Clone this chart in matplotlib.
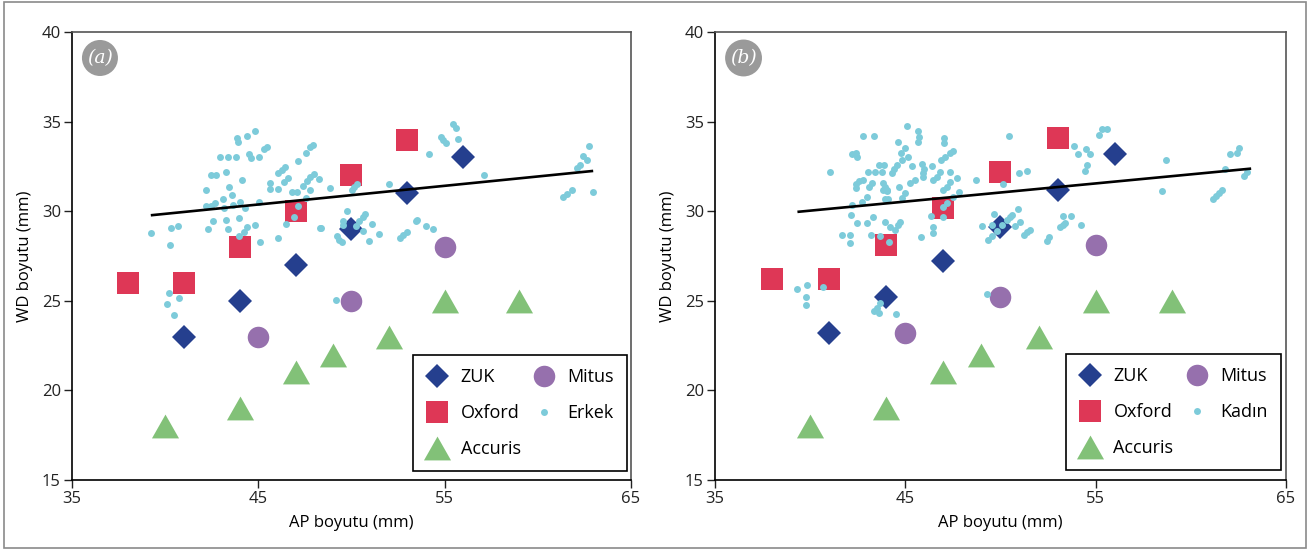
import numpy as np
import matplotlib.pyplot as plt
from matplotlib.patches import Rectangle

plt.rcParams['font.family'] = ['Open Sans', 'DejaVu Sans']

# implant sizes (AP, WD) - panel (a)
zuk_ap_a = [41, 44, 47, 50, 53, 56]
zuk_wd_a = [23, 25, 27, 29, 31, 33]
oxf_ap_a = [38, 41, 44, 47, 50, 53]
oxf_wd_a = [26, 26, 28, 30, 32, 34]
acc_ap_a = [40, 44, 47, 49, 52, 55, 59]
acc_wd_a = [18, 19, 21, 22, 23, 25, 25]
mit_ap_a = [45, 50, 55]
mit_wd_a = [23, 25, 28]

# panel (b)
zuk_ap_b = [41, 44, 47, 50, 53, 56]
zuk_wd_b = [23.2, 25.2, 27.2, 29.1, 31.2, 33.2]
oxf_ap_b = [38, 41, 44, 47, 50, 53]
oxf_wd_b = [26.2, 26.2, 28.1, 30.2, 32.2, 34.1]
acc_ap_b = [40, 44, 47, 49, 52, 55, 59]
acc_wd_b = [18, 19, 21, 22, 23, 25, 25]
mit_ap_b = [45, 50, 55]
mit_wd_b = [23.2, 25.2, 28.1]

# erkek olculeri
erkek_ap = [39.24, 40.30, 40.69, 40.26, 40.22, 40.76, 40.08, 40.48,
            42.19, 42.46, 42.71, 43.28, 42.96, 43.39, 43.79,
            43.84, 43.93, 44.41, 44.82, 44.50, 44.59, 45.04, 45.32, 45.45,
            44.14, 43.44, 43.59, 43.09, 42.69, 42.21, 42.46, 43.18,
            43.66, 44.02, 44.29, 45.02,
            42.57, 43.27, 43.96, 42.32, 43.36, 43.95, 44.25, 44.41, 44.81, 45.11,
            45.61, 45.60, 46.07, 46.07, 46.27, 46.45, 46.38, 46.58, 47.11, 47.56, 47.79, 47.94,
            46.81, 47.06, 47.56, 47.38, 47.60, 47.78, 48.00, 47.78, 48.24,
            47.13, 46.93, 46.50, 46.07, 48.31,
            48.87, 50.01, 50.16, 50.28, 52.03, 54.16, 54.79, 54.93, 55.08, 55.43, 55.61, 55.74,
            57.10, 48.37, 49.78,
            49.24, 49.35, 49.48, 49.53, 49.57, 50.23, 50.42, 50.60, 50.73, 51.12, 50.60, 50.96, 51.46,
            52.61, 52.78, 52.96, 53.46, 53.53, 54.00, 54.36, 49.17,
            62.73, 62.41, 62.66, 62.27, 62.09, 61.37, 61.55, 61.82, 62.98]
erkek_wd = [28.78, 29.04, 29.16, 28.13, 25.44, 25.16, 24.80, 24.22,
            31.18, 32.02, 32.02, 32.19, 33.04, 33.04, 33.04,
            34.07, 33.84, 34.21, 34.49, 33.19, 32.99, 33.00, 33.45, 33.60,
            31.72, 31.33, 30.90, 30.70, 30.47, 30.27, 30.30, 30.16,
            30.35, 30.50, 30.20, 30.50,
            29.45, 29.51, 29.64, 29.01, 29.01, 28.62, 28.86, 29.10, 29.21, 28.30,
            31.59, 31.24, 31.25, 32.15, 32.30, 32.45, 31.65, 31.83, 32.82, 33.27, 33.56, 33.69,
            31.07, 31.07, 30.75, 31.41, 31.70, 31.93, 32.08, 31.16, 31.80,
            30.30, 29.70, 29.27, 28.50, 29.04,
            31.28, 31.18, 31.37, 31.52, 31.53, 33.17, 34.16, 33.97, 33.82, 34.85, 34.62, 34.05,
            32.04, 29.04, 29.99,
            28.62, 28.39, 28.26, 29.45, 29.23, 29.17, 29.47, 29.70, 29.84, 29.30, 28.91, 28.35, 28.73,
            28.49, 28.67, 28.84, 29.45, 29.51, 29.19, 29.01, 25.04,
            33.64, 33.08, 32.86, 32.58, 32.39, 30.78, 30.96, 31.18, 31.07]

# kadin olculeri
kadin_ap = [41.06, 42.18, 42.41, 42.48, 42.76, 43.36,
            45.09, 45.67, 45.74, 45.66, 44.63, 47.05, 47.04,
            44.98, 44.76, 45.12, 44.83, 44.55, 44.41, 44.30,
            43.62, 43.90, 43.41, 43.76, 43.02, 42.79, 42.58, 42.41, 42.41, 43.23, 43.11, 42.97, 42.71, 42.18,
            43.81, 44.02, 43.93, 43.81, 44.02,
            44.69, 44.98, 44.81, 44.11, 43.93,
            45.33, 45.89, 45.97, 45.92, 45.92, 46.39, 45.51, 45.25,
            46.88, 47.09, 47.35, 47.52, 46.82, 46.65, 46.44,
            47.35, 47.35, 47.18, 47.00, 47.70, 47.80, 47.49, 47.18, 47.00,
            42.16, 42.45, 42.97, 43.32, 43.93, 44.20, 44.46, 44.63, 44.72, 41.66, 42.09, 42.07, 43.18, 43.67, 44.16,
            45.81, 46.47, 46.47, 46.35, 46.96,
            39.33, 39.82, 39.78, 39.78, 40.68,
            43.67, 43.53, 43.36, 43.64, 44.51,
            50.47, 50.97, 51.40, 50.15, 48.73,
            53.86, 54.09, 54.48, 54.72, 54.53, 54.44, 55.20, 55.34, 55.58,
            49.05, 49.54, 49.68, 50.59, 50.92, 51.03, 50.76,
            49.36, 49.54, 49.80, 50.07, 50.33, 50.50,
            51.24, 51.41, 51.55, 52.43, 52.54, 53.13, 53.27, 53.39, 53.30, 53.69, 54.25,
            49.31, 58.50, 58.72,
            61.15, 61.33, 61.50, 61.63, 61.82, 62.06, 62.45, 62.55, 62.80, 62.97]
kadin_wd = [32.19, 33.17, 33.27, 33.04, 34.20, 34.20,
            34.77, 34.49, 34.16, 33.84, 33.88, 34.07, 33.82,
            33.51, 33.27, 33.01, 32.86, 32.58, 32.37, 32.11,
            32.60, 32.60, 32.17, 32.17, 32.19, 31.74, 31.70, 31.52, 31.28, 31.59, 31.33, 30.78, 30.53, 30.35,
            31.59, 31.18, 31.37, 31.18, 31.14,
            31.37, 31.03, 30.72, 30.66, 30.66,
            32.52, 32.63, 32.34, 32.11, 31.93, 32.52, 31.74, 31.56,
            32.86, 33.04, 33.23, 33.38, 32.21, 31.93, 31.74,
            32.21, 31.65, 31.37, 31.18, 31.83, 31.09, 30.78, 30.44, 30.25,
            29.79, 29.32, 29.32, 29.66, 29.42, 29.14, 28.95, 29.23, 29.42, 28.67, 28.67, 28.24, 28.67, 28.62, 28.26,
            28.54, 29.10, 28.77, 29.75, 29.66,
            25.68, 25.88, 25.23, 24.75, 25.75,
            24.86, 24.58, 24.45, 24.30, 24.25,
            34.20, 32.15, 32.26, 31.52, 31.72,
            33.66, 33.19, 33.47, 33.19, 32.58, 32.24, 34.25, 34.57, 34.57,
            29.19, 29.23, 29.83, 29.77, 30.14, 29.40, 29.17,
            28.39, 28.62, 28.91, 29.23, 29.51, 29.70,
            28.67, 28.82, 28.95, 28.35, 28.58, 29.10, 29.23, 29.36, 29.73, 29.73, 29.25,
            25.36, 31.14, 32.86,
            30.66, 30.85, 31.03, 31.18, 32.34, 33.17, 33.27, 33.51, 31.96, 32.19]

# regresyon dogrusu uc noktalari
fit_ap_a = [39.3, 62.9]
fit_wd_a = [29.78, 32.24]
fit_ap_b = [39.4, 63.1]
fit_wd_b = [29.97, 32.37]

c_zuk = '#253f8e'
c_oxf = '#de3756'
c_acc = '#82c178'
c_mit = '#9670ad'
c_dot = '#7dcbda'
tri = [(-1, -0.88), (1, -0.88), (0, 0.88), (-1, -0.88)]

fig = plt.figure(figsize=(13.08, 5.5), dpi=100)
ax_a = fig.add_axes([72/1308, 70/550, 559/1308, 448/550])
ax_b = fig.add_axes([715/1308, 70/550, 571/1308, 448/550])

panels = [
    (ax_a, '(a)', 'Erkek', zuk_ap_a, zuk_wd_a, oxf_ap_a, oxf_wd_a, acc_ap_a, acc_wd_a,
     mit_ap_a, mit_wd_a, erkek_ap, erkek_wd, fit_ap_a, fit_wd_a, (0.993, 0.02)),
    (ax_b, '(b)', 'Kadın', zuk_ap_b, zuk_wd_b, oxf_ap_b, oxf_wd_b, acc_ap_b, acc_wd_b,
     mit_ap_b, mit_wd_b, kadin_ap, kadin_wd, fit_ap_b, fit_wd_b, (0.991, 0.022)),
]

for (ax, tag, dot_name, zx, zy, ox, oy, axx, ay, mx, my, dx, dy, fx, fy, anchor) in panels:
    h_zuk, = ax.plot(zx, zy, ls='none', marker='D', ms=12.7, color=c_zuk, mew=0, label='ZUK', zorder=3)
    h_oxf, = ax.plot(ox, oy, ls='none', marker='s', ms=16.5, color=c_oxf, mew=0, label='Oxford', zorder=3)
    h_acc, = ax.plot(axx, ay, ls='none', marker=tri, ms=19.5, color=c_acc, mew=0, label='Accuris', zorder=3)
    h_mit, = ax.plot(mx, my, ls='none', marker='o', ms=15.5, color=c_mit, mew=0, label='Mitus', zorder=3)
    h_dot, = ax.plot(dx, dy, ls='none', marker='o', ms=5, color=c_dot, mew=0, label=dot_name, zorder=4)
    ax.plot(fx, fy, color='black', lw=1.9, zorder=5)

    ax.set_xlim(35, 65)
    ax.set_ylim(15, 40)
    ax.set_xticks([35, 45, 55, 65])
    ax.set_yticks([15, 20, 25, 30, 35, 40])
    ax.tick_params(direction='out', length=6, width=1, labelsize=12, pad=2, colors='#222222')
    for s in ['top', 'right']:
        ax.spines[s].set_color('#555555')
    for s in ax.spines.values():
        s.set_linewidth(1.2)
    ax.set_xlabel('AP boyutu (mm)', fontsize=12, labelpad=6)
    ax.set_ylabel('WD boyutu (mm)', fontsize=12, labelpad=6)

    ax.text(0.05, 0.942, tag, transform=ax.transAxes, ha='center', va='center',
            fontsize=13.5, color='white', style='italic', family='DejaVu Serif',
            bbox=dict(boxstyle='circle,pad=0.27', fc='#9a9a9a', ec='none'))

    leg = ax.legend(handles=[h_zuk, h_oxf, h_acc, h_mit, h_dot], ncol=2, loc='lower right',
                    bbox_to_anchor=anchor, borderaxespad=0, fontsize=13, frameon=True,
                    fancybox=False, edgecolor='black', framealpha=1, handlelength=1.2,
                    handletextpad=0.7, columnspacing=0.7, labelspacing=1.0, borderpad=0.72)
    leg.get_frame().set_linewidth(1.2)

fig.patches.append(Rectangle((4/1308, 2/550), 1302/1308, 546/550, transform=fig.transFigure,
                             fill=False, edgecolor='#8a8a8a', lw=1.2))

fig.savefig('out.png', dpi=100)
